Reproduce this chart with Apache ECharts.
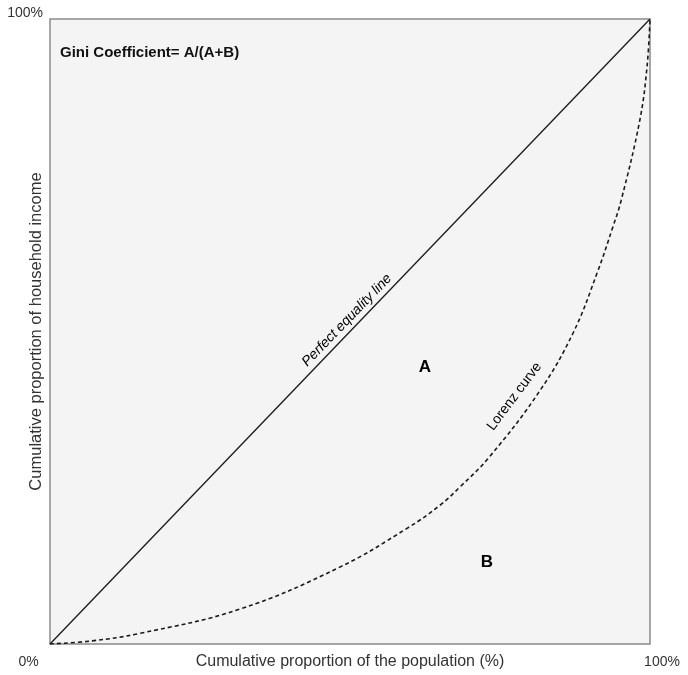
<!DOCTYPE html>
<html>
<head>
<meta charset="utf-8">
<script src="https://cdn.jsdelivr.net/npm/echarts@6/dist/echarts.min.js"></script>
<style>
  html, body { margin: 0; padding: 0; background: #fff; }
  #chart { width: 688px; height: 675px; }
</style>
</head>
<body>
<div id="chart"></div>
<script>
// share of population (%) and share of income (%)
var equalityX = [0, 100];
var equalityY = [0, 100];
var lorenzX = [0, 7, 15, 31.7, 48.3, 59.5, 65, 68.3, 73.3, 81.7, 87.2, 91.2, 93.8, 95.2, 98.3, 99.5, 100];
var lorenzY = [0, 0.5, 1.7, 5.6, 12.3, 18.5, 22.2, 25.1, 30.0, 40.6, 49.8, 59.4, 66.7, 71.0, 83.8, 92.3, 100];

var axisTicks = [0, 100];
var tickLabels = ['0%', '100%'];

var titleText = 'Gini Coefficient= A/(A+B)';
var xTitle = 'Cumulative proportion of the population (%)';
var yTitle = 'Cumulative proportion of household income';

// annotation texts anchored in data units
var notes = [
    { text: 'A', at: [62.5, 44.2], angle: 0, kind: 'area' },
    { text: 'B', at: [72.8, 13.1], angle: 0, kind: 'area' },
    { text: 'Perfect equality line', at: [49.5, 51.8], angle: 46, kind: 'line' },
    { text: 'Lorenz curve', at: [77.4, 39.6], angle: 53, kind: 'curve' }
];

var FONT = '"Liberation Sans", Arial, Helvetica, sans-serif';

function pairs(xs, ys) {
    var out = [];
    for (var i = 0; i < xs.length; i++) {
        out.push([xs[i], ys[i]]);
    }
    return out;
}

function tickText(val) {
    var i = axisTicks.indexOf(val);
    return i < 0 ? '' : tickLabels[i];
}

var chart = echarts.init(document.getElementById('chart'), null, { renderer: 'canvas' });

var option = {
    animation: false,
    backgroundColor: '#ffffff',
    textStyle: { fontFamily: FONT },
    title: {
        text: titleText,
        left: 55,
        top: 40,
        textStyle: { fontFamily: FONT, fontSize: 15, fontWeight: 'bold', color: '#111' }
    },
    grid: {
        left: 50, right: 38, top: 19, bottom: 31,
        outerBoundsMode: 'none',
        containLabel: false,
        show: true,
        backgroundColor: '#f4f4f4',
        borderColor: '#8a8a8a',
        borderWidth: 1.5
    },
    xAxis: {
        type: 'value',
        min: 0, max: 100, interval: 100,
        name: xTitle,
        nameLocation: 'middle',
        nameGap: 10,
        nameMoveOverlap: false,
        nameTextStyle: { fontFamily: FONT, fontSize: 16, color: '#333', verticalAlign: 'top' },
        axisLine: { show: false },
        axisTick: { show: false },
        splitLine: { show: false },
        axisLabel: {
            margin: 11,
            fontSize: 14,
            color: '#333',
            hideOverlap: false,
            formatter: function (v) {
                var t = tickText(v);
                if (!t) return '';
                return v === 0 ? '{l|' + t + '}' : '{r|' + t + '}';
            },
            rich: {
                l: { fontFamily: FONT, fontSize: 14, color: '#333', padding: [0, 43, 0, 0] },
                r: { fontFamily: FONT, fontSize: 14, color: '#333', padding: [0, 0, 0, 24] }
            }
        }
    },
    yAxis: {
        type: 'value',
        min: 0, max: 100, interval: 100,
        name: yTitle,
        nameLocation: 'middle',
        nameGap: 5,
        nameMoveOverlap: false,
        nameTextStyle: { fontFamily: FONT, fontSize: 16.5, color: '#333' },
        axisLine: { show: false },
        axisTick: { show: false },
        splitLine: { show: false },
        axisLabel: {
            margin: 7,
            fontSize: 14,
            color: '#333',
            formatter: function (v) {
                return v === 100 ? '{t|' + tickText(v) + '}' : '';
            },
            rich: {
                t: { fontFamily: FONT, fontSize: 14, color: '#333', padding: [0, 0, 11, 0] }
            }
        }
    },
    series: [
        {
            name: 'Perfect equality line',
            type: 'line',
            data: pairs(equalityX, equalityY),
            symbol: 'none',
            lineStyle: { color: '#1a1a1a', width: 1.3 },
            z: 3
        },
        {
            name: 'Lorenz curve',
            type: 'line',
            data: pairs(lorenzX, lorenzY),
            symbol: 'none',
            smooth: 0.4,
            lineStyle: { color: '#1a1a1a', width: 1.6, type: [4, 3] },
            z: 3
        }
    ]
};

chart.setOption(option);

// place annotations through the chart's own coordinate system
var graphics = notes.map(function (n) {
    var p = chart.convertToPixel({ gridIndex: 0 }, n.at);
    var style = {
        text: n.text,
        fill: '#000',
        fontFamily: FONT,
        align: 'center',
        verticalAlign: 'middle'
    };
    if (n.kind === 'area') {
        style.fontSize = 17;
        style.fontWeight = 'bold';
    } else if (n.kind === 'line') {
        style.fontSize = 14;
        style.fontStyle = 'italic';
    } else {
        style.fontSize = 14;
    }
    return {
        type: 'text',
        x: p[0],
        y: p[1],
        rotation: n.angle * Math.PI / 180,
        style: style,
        z: 10
    };
});

chart.setOption({ graphic: graphics });
</script>
</body>
</html>
